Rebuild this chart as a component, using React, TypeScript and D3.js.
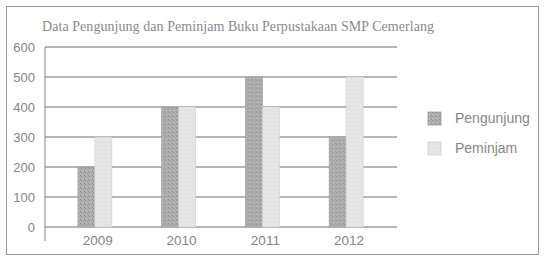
import React from "react";
import * as d3 from "d3";

const years = ["2009", "2010", "2011", "2012"];
const series = ["Pengunjung", "Peminjam"];
const pengunjung = [200, 400, 500, 300];
const peminjam = [300, 400, 400, 500];
const yTicks = [0, 100, 200, 300, 400, 500, 600];
const title = "Data Pengunjung dan Peminjam Buku Perpustakaan SMP Cemerlang";

const W = 547;
const H = 261;

export default function App() {
  const x = d3.scaleBand<string>().domain(years).range([53, 388]).padding(0);
  const bw = 17;
  const x1 = d3
    .scaleBand<string>()
    .domain(series)
    .range([x.bandwidth() / 2 - bw, x.bandwidth() / 2 + bw])
    .padding(0);
  const y = d3.scaleLinear().domain([0, 600]).range([227, 47]);
  const values = [pengunjung, peminjam];
  const fills = ["url(#darkPat)", "url(#lightPat)"];
  const strokes = ["#9a9a9a", "#cfcfcf"];
  const gridL = 45;
  const gridR = 397;

  return (
    <svg
      width={W}
      height={H}
      style={{ position: "absolute", left: 0, top: 0, background: "#fff" }}
    >
      <defs>
        <pattern id="darkPat" width="4" height="4" patternUnits="userSpaceOnUse">
          <rect width="4" height="4" fill="#b0b0b0" />
          <rect x="0" y="0" width="1" height="1" fill="#8a8a8a" />
          <rect x="2" y="1" width="1" height="1" fill="#9a9a9a" />
          <rect x="1" y="2" width="1" height="1" fill="#c4c4c4" />
          <rect x="3" y="3" width="1" height="1" fill="#909090" />
        </pattern>
        <pattern id="lightPat" width="4" height="4" patternUnits="userSpaceOnUse">
          <rect width="4" height="4" fill="#e6e6e6" />
          <rect x="1" y="1" width="1" height="1" fill="#d8d8d8" />
          <rect x="3" y="2" width="1" height="1" fill="#dcdcdc" />
        </pattern>
      </defs>
      <rect x={6.5} y={6.5} width={532} height={248} fill="#fff" stroke="#9a9a9a" strokeWidth={1} />
      <text
        x={42}
        y={31}
        fontFamily="'Liberation Serif', 'Times New Roman', serif"
        fontSize={14}
        textLength={392}
        lengthAdjust="spacing"
        fill="#8a8a8a"
      >
        {title}
      </text>
      {yTicks.map((t) => (
        <g key={t}>
          <line x1={gridL} x2={gridR} y1={y(t)} y2={y(t)} stroke="#6e6e6e" strokeWidth={1} />
          <text
            x={35}
            y={y(t)}
            dy="0.35em"
            textAnchor="end"
            fontFamily="'Liberation Sans', Arial, sans-serif"
            fontSize={13}
            fill="#858585"
          >
            {t}
          </text>
        </g>
      ))}
      <line x1={gridL} x2={gridL} y1={y(600)} y2={241} stroke="#8a8a8a" strokeWidth={1} />
      {years.map((yr, i) => (
        <g key={yr} transform={`translate(${x(yr)},0)`}>
          {series.map((s, j) => (
            <rect
              key={s}
              x={x1(s)}
              y={y(values[j][i])}
              width={x1.bandwidth()}
              height={y(0) - y(values[j][i])}
              fill={fills[j]}
              stroke={strokes[j]}
              strokeWidth={0.6}
            />
          ))}
          <text
            x={x.bandwidth() / 2 + 3}
            y={245}
            textAnchor="middle"
            fontFamily="'Liberation Sans', Arial, sans-serif"
            fontSize={13.5}
            fill="#858585"
          >
            {yr}
          </text>
        </g>
      ))}
      {series.map((s, j) => (
        <g key={s} transform={`translate(428, ${112 + j * 30})`}>
          <rect x={0} y={0} width={13} height={13} fill={fills[j]} stroke={strokes[j]} strokeWidth={0.8} />
          <text
            x={27}
            y={6.5}
            dy="0.35em"
            fontFamily="'Liberation Sans', Arial, sans-serif"
            fontSize={14}
            fill="#858585"
          >
            {s}
          </text>
        </g>
      ))}
    </svg>
  );
}
